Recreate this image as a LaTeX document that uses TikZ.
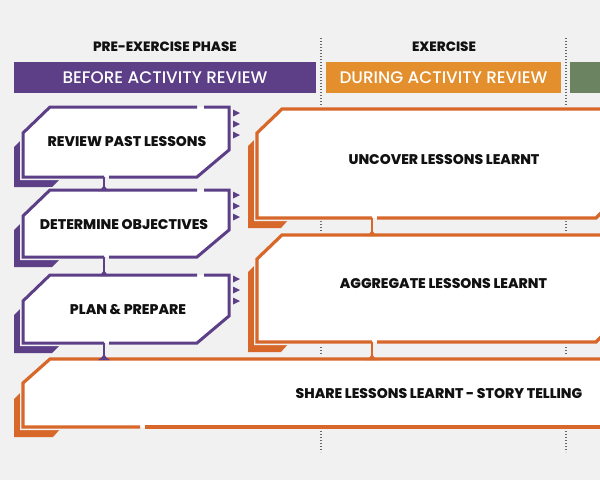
\documentclass[tikz,border=0pt]{standalone}
\usepackage{fontspec}
\setmainfont{Poppins}
\newfontfamily\heavyfont{Poppins}[UprightFont=* ExtraBold]
\newfontfamily\medfont{Poppins}[UprightFont=* Medium]
\definecolor{bg}{HTML}{F1F1F1}
\definecolor{purp}{HTML}{5C3F87}
\definecolor{orH}{HTML}{E38F2E}
\definecolor{orB}{HTML}{D8682A}
\definecolor{grn}{HTML}{6C8361}
\definecolor{dotc}{HTML}{666666}
\definecolor{ink}{HTML}{111111}
\tikzset{
  dotline/.style={draw=dotc, line width=1.3pt, dash pattern=on 1.2pt off 1.8pt},
  halo/.style={draw=bg, line width=6pt, line join=miter},
  pline/.style={draw=purp, line width=3pt, line join=miter},
  oline/.style={draw=orB, line width=3.2pt, line join=miter},
  conn/.style={line width=2.6pt},
  lbl/.style={text=ink, font=\heavyfont\fontsize{14}{16}\selectfont, inner sep=0pt},
  hdr/.style={text=ink, font=\heavyfont\fontsize{13.5}{15}\selectfont, inner sep=0pt},
  bartxt/.style={text=white, font=\medfont\fontsize{16.8}{18}\selectfont, inner sep=0pt, minimum height=31pt},
}
\newcommand\purpbox[2]{% #1 top, #2 bottom
  \fill[purp] (14,#1+40) -- (23,#1+31) -- (23,#2) -- (62,#2) -- (52,#2+10) -- (14,#2+10) -- cycle;
  \draw[halo] (50,#1) -- (229,#1) -- (229,#2-27) -- (197,#2) -- (23,#2) -- (23,#1+26) -- cycle;
  \fill[white] (50,#1) -- (229,#1) -- (229,#2-27) -- (197,#2) -- (23,#2) -- (23,#1+26) -- cycle;
  \draw[pline] (204,#1) -- (229,#1) -- (229,#2-27) -- (197,#2) -- (109,#2);
  \draw[pline] (104,#2) -- (23,#2) -- (23,#1+26) -- (50,#1) -- (197,#1);
}
\newcommand\ptris[1]{% #1 first centre
  \foreach \c in {0,11,22}{\fill[purp] (233,#1+\c-3.5) -- (240,#1+\c) -- (233,#1+\c+3.5) -- cycle;}
}
\newcommand\orbox[4]{% #1 top, #2 bottom, #3 left chamfer x, #4 gap x
  \fill[orB] (#3-9,#1+37) -- (#3,#1+28) -- (#3,#2) -- (#3+33,#2) -- (#3+24,#2+10) -- (#3-9,#2+10) -- cycle;
  \draw[halo] (#3+25,#1) -- (640,#1) -- (640,#2) -- (#3,#2) -- (#3,#1+24) -- cycle;
  \fill[white] (#3+25,#1) -- (640,#1) -- (640,#2) -- (#3,#2) -- (#3,#1+24) -- cycle;
  \draw[oline] (#4+5,#2) -- (596,#2) -- (620,#2-24);
  \draw[oline] (#4,#2) -- (#3,#2) -- (#3,#1+24) -- (#3+25,#1) -- (640,#1);
}
\newcommand\bump[3]{% #1 colour, #2 x, #3 y
  \fill[#1] (#2-6,#3+1) .. controls (#2-3,#3) and (#2-2,#3-2) .. (#2,#3-5) .. controls (#2+2,#3-2) and (#2+3,#3) .. (#2+6,#3+1) -- cycle;
}
\begin{document}
\begin{tikzpicture}[x=1pt,y=-1pt]
\fill[bg] (0,0) rectangle (600,480);
\useasboundingbox (0,0) rectangle (600,480);
\clip (0,0) rectangle (600,480);

% dotted phase separators
\draw[dotline] (321,38) -- (321,452);
\draw[dotline] (566,38) -- (566,452);

% headers
\node[hdr] (pre) at (165,47) {PRE-EXERCISE PHASE};
\node[hdr] (ex) at (444,47) {EXERCISE};
\node[bartxt, fill=purp, minimum width=302pt] (bar1) at (165,77.5) {BEFORE ACTIVITY REVIEW};
\node[bartxt, fill=orH, minimum width=235pt] (bar2) at (443.5,77.5) {DURING ACTIVITY REVIEW};
\node[bartxt, fill=grn, minimum width=40pt] (bar3) at (590,77.5) {};

% purple boxes
\purpbox{107}{177}
\purpbox{190}{257}
\purpbox{275}{343}
\ptris{113}
\ptris{195}
\ptris{279}
\node[lbl] (p1) at (127,141.5) {REVIEW PAST LESSONS};
\node[lbl] (p2) at (124,224.5) {DETERMINE OBJECTIVES};
\node[lbl] (p3) at (128,309.5) {PLAN \& PREPARE};

% orange boxes
\orbox{109}{218}{257}{372}
\orbox{235}{342}{257}{372}
\node[lbl] (o1) at (444,160) {UNCOVER LESSONS LEARNT};
\node[lbl] (o2) at (443.5,284) {AGGREGATE LESSONS LEARNT};

% share box
\fill[orB] (14,399) -- (23,390) -- (23,427) -- (62,427) -- (53,437) -- (14,437) -- cycle;
\draw[halo] (50,359) -- (640,359) -- (640,427) -- (23,427) -- (23,383) -- cycle;
\fill[white] (50,359) -- (640,359) -- (640,427) -- (23,427) -- (23,383) -- cycle;
\draw[oline] (145,427) -- (640,427);
\draw[oline] (140,427) -- (23,427) -- (23,383) -- (50,359) -- (640,359);
\node[lbl] (s) at (439,394) {SHARE LESSONS LEARNT - STORY TELLING};

% connectors
\coordinate (c1a) at (104,177); \coordinate (c1b) at (104,190);
\coordinate (c2a) at (104,257); \coordinate (c2b) at (104,275);
\coordinate (c3a) at (104,343); \coordinate (c3b) at (104,359);
\coordinate (c4a) at (372,218); \coordinate (c4b) at (372,235);
\coordinate (c5a) at (372,342); \coordinate (c5b) at (372,359);
\draw[conn, purp] (c1a) -- (c1b);
\draw[conn, purp] (c2a) -- (c2b);
\draw[conn, purp] (c3a) -- (c3b);
\draw[conn, orB] (c4a) -- (c4b);
\draw[conn, orB] (c5a) -- (c5b);
\bump{purp}{104}{190}
\bump{purp}{104}{275}
\bump{purp}{104}{359}
\bump{orB}{372}{235}
\bump{orB}{372}{359}
\end{tikzpicture}
\end{document}
